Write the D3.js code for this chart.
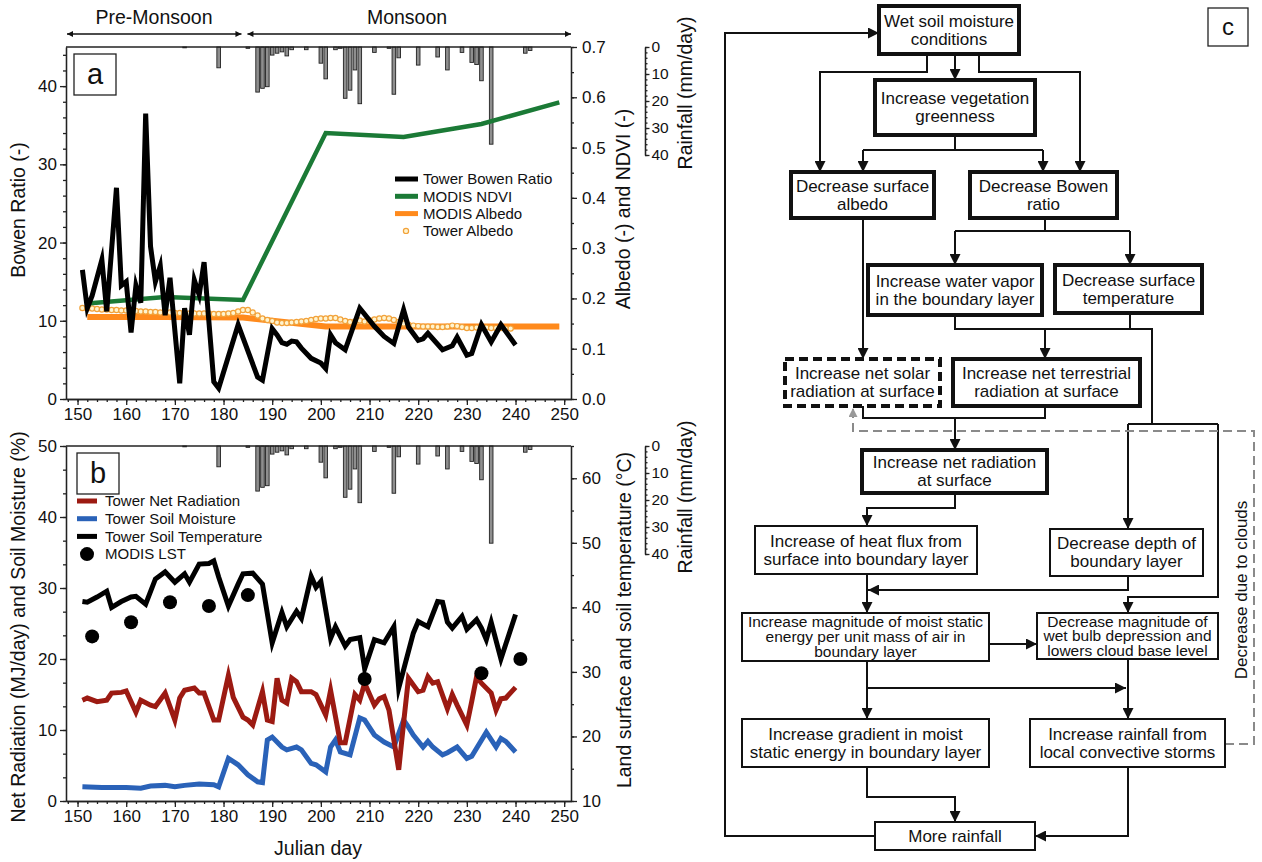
<!DOCTYPE html>
<html>
<head>
<meta charset="utf-8">
<script src="https://cdn.jsdelivr.net/npm/d3@7"></script>
<style>
  body { margin: 0; background: #fff; }
  svg text { font-family: "Liberation Sans", Arial, sans-serif; fill: #111; }
</style>
</head>
<body>
<svg id="fig" width="1262" height="862"></svg>
<script>
// ---------------- data ----------------
const xTicks = [150, 160, 170, 180, 190, 200, 210, 220, 230, 240, 250];

// panel a
const bowenDays = [151,152,153,155,156,158,159,160,161,162,163,164,165,166,167,168,169,171,172,173,174,175,176,178,179,183,187,188,190,191,192,193,194,195,196,198,200,201,202,203,205,208,211,213,215,217,218,220,221,222,225,227,228,230,231,233,235,237,240];
const bowenVals = [16.5,11.6,13.2,17.8,11.2,27.0,14.5,15.0,8.5,14.5,12.3,36.5,19.5,15.0,17.0,10.7,15.5,2.0,11.6,8.2,15.2,13.3,17.5,2.2,1.4,9.5,2.8,2.4,9.0,8.2,7.2,7.0,7.4,7.3,6.5,5.2,4.6,3.9,8.2,7.2,6.3,11.6,9.3,8.0,7.1,11.4,9.2,7.5,7.7,8.4,6.3,6.8,7.9,5.6,5.8,9.5,7.3,9.5,6.9];

const modisDays = [152, 168, 184, 201, 217, 233, 249];
const ndviVals = [0.190, 0.203, 0.197, 0.529, 0.521, 0.547, 0.590];
const modisAlbedoVals = [0.163, 0.163, 0.162, 0.144, 0.144, 0.144, 0.144];

const towerAlbedoStart = 151;
const towerAlbedoVals = [
  0.181,0.180,0.180,0.179,0.178,0.178,0.177,0.177,0.176,0.176,
  0.175,0.175,0.174,0.174,0.173,0.173,0.172,0.172,0.172,0.171,
  0.171,0.171,0.170,0.170,0.170,0.170,0.170,0.169,0.169,0.169,
  0.170,0.171,0.174,0.177,0.177,0.172,0.166,0.160,0.157,0.155,
  0.152,0.151,0.151,0.152,0.153,0.154,0.155,0.157,0.159,0.160,
  0.160,0.161,0.161,0.158,0.155,0.153,0.154,0.156,0.154,0.156,
  0.158,0.160,0.161,0.160,0.157,0.153,0.150,0.148,0.146,0.145,
  0.144,0.144,0.144,0.143,0.143,0.144,0.146,0.145,0.143,0.141,
  0.141,0.142,0.142,0.142,0.141,0.141,0.141,0.140,0.140
];

// rainfall (both panels)
const rainDays = [172,179,185,187,188,189,190,191,192,193,194,197,200,201,203,204,205,206,207,208,211,214,215,216,220,224,226,229,231,232,233,235,242,243];
const rainVals = [0.3,7.7,0.5,16.7,15.3,14.7,3.0,2.3,1.8,3.3,1.0,1.0,6.0,11.8,1.0,0.5,19.0,16.0,8.5,21.0,2.0,0.5,17.5,4.0,6.7,3.7,8.5,2.0,5.7,6.5,12.5,36.0,2.3,1.3];

// panel b
const netRadDays = [151,152,154,156,157,159,160,162,163,165,166,168,169,170,171,172,174,175,176,178,179,181,182,184,185,186,188,189,190,191,192,193,194,195,196,198,199,201,202,204,205,207,208,209,211,212,213,214,216,217,218,220,221,222,223,224,226,227,228,230,231,232,233,235,236,237,238,240];
const netRadVals = [14.2,14.5,14.0,14.2,15.2,15.3,15.5,12.5,14.2,13.5,13.3,15.2,13.3,11.4,14.5,15.6,15.9,15.2,15.2,11.4,11.4,17.7,14.6,11.8,11.4,10.7,15.4,11.4,11.2,17.3,14.2,13.8,17.3,16.8,15.4,15.4,15.0,12.1,15.6,8.2,8.2,15.0,14.2,16.6,13.5,14.4,14.7,12.8,4.4,11.0,17.3,15.4,15.6,17.5,16.6,16.8,13.0,15.0,13.5,10.7,14.0,17.5,16.6,15.2,12.8,14.4,14.5,16.0];

const soilMoistDays = [151,155,160,163,165,168,170,172,175,178,179,181,183,185,187,188,189,190,192,193,195,196,198,199,201,202,203,204,206,208,209,211,213,215,217,218,219,221,222,223,225,226,228,230,231,234,236,237,238,240];
const soilMoistVals = [2.0,1.9,1.9,1.8,2.1,2.2,2.0,2.2,2.4,2.3,2.0,6.0,5.1,3.7,2.7,2.6,8.6,9.0,7.6,7.2,7.6,7.2,5.3,5.1,4.1,7.6,8.6,6.9,6.5,11.7,11.4,9.3,8.3,7.6,11.4,10.4,9.3,7.6,8.4,7.6,6.5,6.8,7.6,6.0,6.3,9.7,7.6,8.8,8.4,6.9];

const soilTempDays = [151,152,154,156,157,159,161,162,164,166,168,170,172,173,175,177,178,179,181,183,184,186,188,190,192,193,195,196,198,199,200,202,203,205,206,208,209,211,213,215,216,219,220,222,224,225,226,227,229,230,232,233,234,235,237,240];
const soilTempVals = [40.9,40.8,41.6,42.5,40.0,40.9,41.6,41.7,40.5,44.4,45.5,43.9,45.2,43.9,46.7,46.8,47.2,44.7,40.2,43.6,45.2,45.3,43.6,34.5,39.2,37.0,39.4,38.3,44.8,43.1,44.0,35.2,37.0,34.0,35.0,35.3,30.5,35.0,34.5,37.0,27.5,36.0,37.8,37.0,40.9,40.8,37.7,36.8,38.6,36.6,38.1,36.8,35.0,37.7,32.0,38.9];

const lstDays = [153, 161, 169, 177, 185, 209, 233, 241];
const lstVals = [35.5, 37.7, 40.8, 40.2, 41.9, 28.9, 29.8, 32.0];

// panel c texts
const flowTexts = [
  ["Wet soil moisture", "conditions"],
  ["Increase vegetation", "greenness"],
  ["Decrease surface", "albedo"],
  ["Decrease Bowen", "ratio"],
  ["Increase water vapor", "in the boundary layer"],
  ["Decrease surface", "temperature"],
  ["Increase net solar", "radiation at surface"],
  ["Increase net terrestrial", "radiation at surface"],
  ["Increase net radiation", "at surface"],
  ["Increase of heat flux from", "surface into boundary layer"],
  ["Decrease depth of", "boundary layer"],
  ["Increase magnitude of moist static", "energy per unit mass of air in", "boundary layer"],
  ["Decrease magnitude of", "wet bulb depression and", "lowers cloud base level"],
  ["Increase gradient in moist", "static energy in boundary layer"],
  ["Increase rainfall from", "local convective storms"],
  ["More rainfall"]
];

// ---------------- drawing ----------------
const svg = d3.select("#fig");
const defs = svg.append("defs");
function addMarker(id, color, len, wid) {
  defs.append("marker").attr("id", id)
    .attr("viewBox", "0 0 10 10").attr("refX", 10).attr("refY", 5)
    .attr("markerWidth", len).attr("markerHeight", wid)
    .attr("markerUnits", "userSpaceOnUse").attr("orient", "auto-start-reverse")
    .append("path").attr("d", "M0,0L10,5L0,10z").attr("fill", color);
}
addMarker("ah", "#111", 12, 11);
addMarker("ahGray", "#999", 11, 9);
addMarker("ahSmall", "#111", 9, 6);

const zip = (a, b) => a.map((d, i) => [d, b[i]]);
const x = d3.scaleLinear().domain([147.63, 251.4]).range([66, 571]);
const X0 = 66, X1 = 571, RAINX = 645;

function styleAxis(g, fs) {
  g.attr("font-family", null);
  g.selectAll(".domain, .tick line").attr("stroke", "#222").attr("stroke-width", 1.3);
  g.selectAll(".tick text").attr("font-size", fs || 17).attr("fill", "#111");
}
function addAxis(parent, gen, tx, ty, fs) {
  const a = parent.append("g").attr("transform", `translate(${tx},${ty})`).call(gen);
  styleAxis(a, fs);
  return a;
}
function vLabel(txt, cx, cy, fs) {
  svg.append("text").attr("transform", `translate(${cx},${cy}) rotate(-90)`)
    .attr("text-anchor", "middle").attr("dy", "0.35em")
    .attr("font-size", fs || 19.5).text(txt);
}

function panel(o) {
  const g = svg.append("g");
  // rainfall bars hanging from the top frame
  g.selectAll("rect.rain").data(zip(rainDays, rainVals)).join("rect")
    .attr("class", "rain")
    .attr("x", d => x(d[0]) - 1.8).attr("y", o.top).attr("width", 3.6)
    .attr("height", d => o.yRain(d[1]) - o.top)
    .attr("fill", "#8e8e8e").attr("stroke", "#222").attr("stroke-width", 0.9);

  addAxis(g, d3.axisBottom(x).tickValues(d3.range(148, 252, 2)).tickSize(3).tickSizeOuter(0).tickFormat(""), 0, o.bottom);
  addAxis(g, d3.axisBottom(x).tickValues(xTicks).tickSize(6).tickSizeOuter(0).tickPadding(3).tickFormat(d3.format("d")), 0, o.bottom);
  addAxis(g, d3.axisLeft(o.yL).tickValues(o.lMinor).tickSize(3).tickSizeOuter(0).tickFormat(""), X0, 0);
  addAxis(g, d3.axisLeft(o.yL).tickValues(o.lMajor).tickSize(6).tickSizeOuter(0).tickPadding(3).tickFormat(d3.format("d")), X0, 0);
  addAxis(g, d3.axisRight(o.yR).tickValues(o.rMinor).tickSize(3).tickSizeOuter(0).tickFormat(""), X1, 0);
  addAxis(g, d3.axisRight(o.yR).tickValues(o.rMajor).tickSize(6).tickSizeOuter(0).tickPadding(5).tickFormat(o.rFmt), X1, 0);
  g.append("line").attr("x1", X0).attr("x2", X1).attr("y1", o.top).attr("y2", o.top)
    .attr("stroke", "#222").attr("stroke-width", 1.3);

  // small rainfall axis
  addAxis(g, d3.axisRight(o.yRain).tickValues(d3.range(0, 41, 2)).tickSize(2.5).tickSizeOuter(0).tickFormat(""), RAINX, 0);
  addAxis(g, d3.axisRight(o.yRain).tickValues([0, 10, 20, 30, 40]).tickSize(4.5).tickSizeOuter(0).tickPadding(2).tickFormat(d3.format("d")), RAINX, 0, 15.5);

  // panel letter
  g.append("rect").attr("x", o.letterBox[0]).attr("y", o.letterBox[1]).attr("width", 42).attr("height", 41)
    .attr("fill", "#fff").attr("stroke", "#222").attr("stroke-width", 1.3);
  g.append("text").attr("x", o.letterBox[0] + 21).attr("y", o.letterBox[1] + 30)
    .attr("text-anchor", "middle").attr("font-size", 29).text(o.letter);
  return g;
}

function drawLine(g, days, vals, yS, color, w) {
  g.append("path").datum(zip(days, vals))
    .attr("d", d3.line().x(d => x(d[0])).y(d => yS(d[1])))
    .attr("fill", "none").attr("stroke", color).attr("stroke-width", w)
    .attr("stroke-linejoin", "miter").attr("stroke-miterlimit", 6);
}

// ---- panel a ----
const yBowen = d3.scaleLinear().domain([0, 45]).range([399, 47]);
const yAlb = d3.scaleLinear().domain([0, 0.7]).range([399, 47]);
const yRainA = d3.scaleLinear().domain([0, 40]).range([47, 155]);
const ga = panel({
  top: 47, bottom: 399, yL: yBowen, yR: yAlb, yRain: yRainA,
  lMajor: [0, 10, 20, 30, 40], lMinor: d3.range(0, 46, 2),
  rMajor: [0, 0.1, 0.2, 0.3, 0.4, 0.5, 0.6, 0.7], rMinor: d3.range(0, 0.71, 0.05), rFmt: d3.format(".1f"),
  letter: "a", letterBox: [74, 54]
});
drawLine(ga, modisDays, modisAlbedoVals, yAlb, "#ff8a1c", 6);
ga.selectAll("circle.ta").data(towerAlbedoVals).join("circle").attr("class", "ta")
  .attr("cx", (d, i) => x(towerAlbedoStart + i)).attr("cy", d => yAlb(d)).attr("r", 2.6)
  .attr("fill", "#fff4cf").attr("stroke", "#f2a23a").attr("stroke-width", 1.2);
drawLine(ga, modisDays, ndviVals, yAlb, "#1b7a36", 4.5);
drawLine(ga, bowenDays, bowenVals, yBowen, "#000", 5);

const legA = [["Tower Bowen Ratio", "#000"], ["MODIS NDVI", "#1b7a36"], ["MODIS Albedo", "#ff8a1c"], ["Tower Albedo", null]];
legA.forEach((d, i) => {
  const yy = 179 + i * 17.3;
  if (d[1]) ga.append("line").attr("x1", 395).attr("x2", 418).attr("y1", yy).attr("y2", yy)
    .attr("stroke", d[1]).attr("stroke-width", 5);
  else ga.append("circle").attr("cx", 406).attr("cy", yy).attr("r", 2.6)
    .attr("fill", "#fff4cf").attr("stroke", "#f2a23a").attr("stroke-width", 1.2);
  ga.append("text").attr("x", 423).attr("y", yy).attr("dy", "0.35em").attr("font-size", 15).text(d[0]);
});

vLabel("Bowen Ratio (-)", 18, 210);
vLabel("Albedo (-) and NDVI (-)", 623, 209);
vLabel("Rainfall (mm/day)", 685, 93);

// season arrows
const split = x(184.3);
svg.append("line").attr("x1", X0 + 1).attr("x2", split - 3).attr("y1", 34).attr("y2", 34)
  .attr("stroke", "#111").attr("stroke-width", 1.3)
  .attr("marker-start", "url(#ahSmall)").attr("marker-end", "url(#ahSmall)");
svg.append("line").attr("x1", split + 3).attr("x2", X1).attr("y1", 34).attr("y2", 34)
  .attr("stroke", "#111").attr("stroke-width", 1.3)
  .attr("marker-start", "url(#ahSmall)").attr("marker-end", "url(#ahSmall)");
svg.append("text").attr("x", 154).attr("y", 24).attr("text-anchor", "middle").attr("font-size", 19.5).text("Pre-Monsoon");
svg.append("text").attr("x", 407).attr("y", 24).attr("text-anchor", "middle").attr("font-size", 19.5).text("Monsoon");

// ---- panel b ----
const yNet = d3.scaleLinear().domain([0, 50]).range([801, 446]);
const yTemp = d3.scaleLinear().domain([10, 65]).range([801, 446]);
const yRainB = d3.scaleLinear().domain([0, 40]).range([446, 554]);
const gb = panel({
  top: 446, bottom: 801, yL: yNet, yR: yTemp, yRain: yRainB,
  lMajor: [0, 10, 20, 30, 40, 50], lMinor: d3.range(0, 50.1, 10 / 3),
  rMajor: [10, 20, 30, 40, 50, 60], rMinor: d3.range(10, 66, 5), rFmt: d3.format("d"),
  letter: "b", letterBox: [77, 453]
});
drawLine(gb, soilMoistDays, soilMoistVals, yNet, "#2a62b8", 5);
drawLine(gb, netRadDays, netRadVals, yNet, "#9c1a12", 5);
drawLine(gb, soilTempDays, soilTempVals, yTemp, "#000", 5);
gb.selectAll("circle.lst").data(zip(lstDays, lstVals)).join("circle").attr("class", "lst")
  .attr("cx", d => x(d[0])).attr("cy", d => yTemp(d[1])).attr("r", 7).attr("fill", "#000");

const legB = [["Tower Net Radiation", "#9c1a12"], ["Tower Soil Moisture", "#2a62b8"], ["Tower Soil Temperature", "#000"], ["MODIS LST", null]];
legB.forEach((d, i) => {
  const yy = 501 + i * 17.7;
  if (d[1]) gb.append("line").attr("x1", 77).attr("x2", 97).attr("y1", yy).attr("y2", yy)
    .attr("stroke", d[1]).attr("stroke-width", 5);
  else gb.append("circle").attr("cx", 87).attr("cy", yy).attr("r", 7).attr("fill", "#000");
  gb.append("text").attr("x", 105).attr("y", yy).attr("dy", "0.35em").attr("font-size", 15).text(d[0]);
});

vLabel("Net Radiation (MJ/day) and Soil Moisture (%)", 18, 627);
vLabel("Land surface and soil temperature (\u00B0C)", 624, 620);
vLabel("Rainfall (mm/day)", 685, 497);
svg.append("text").attr("x", 318).attr("y", 855).attr("text-anchor", "middle").attr("font-size", 19.5).text("Julian day");

// ---- panel c: flow chart ----
const boxLayout = [
  {x: 879, y: 6, w: 140, h: 48, bw: 4},
  {x: 875, y: 80, w: 160, h: 55, bw: 4},
  {x: 791, y: 172, w: 143, h: 46, bw: 4},
  {x: 970, y: 172, w: 147, h: 46, bw: 4},
  {x: 868, y: 265, w: 174, h: 50, bw: 4},
  {x: 1055, y: 265, w: 147, h: 48, bw: 4},
  {x: 785, y: 359, w: 155, h: 47, bw: 4, dash: "9,5"},
  {x: 953, y: 359, w: 187, h: 47, bw: 4},
  {x: 862, y: 450, w: 185, h: 43, bw: 4},
  {x: 755, y: 526, w: 222, h: 48, bw: 2},
  {x: 1050, y: 529, w: 153, h: 47, bw: 2},
  {x: 742, y: 613, w: 247, h: 48, bw: 2, fs: 15.5, lh: 15},
  {x: 1037, y: 613, w: 181, h: 46, bw: 2, fs: 15.5, lh: 14.5},
  {x: 742, y: 719, w: 247, h: 48, bw: 2},
  {x: 1030, y: 719, w: 195, h: 48, bw: 2},
  {x: 875, y: 822, w: 160, h: 28, bw: 2}
];

const gc = svg.append("g");
// connectors: [points, arrow at end?]
const links = [
  [[[875, 836], [725, 836], [725, 33], [879, 33]], true],
  [[[927, 54], [927, 72], [820, 72], [820, 172]], true],
  [[[955, 54], [955, 80]], true],
  [[[979, 54], [979, 72], [1080, 72], [1080, 172]], true],
  [[[955, 135], [955, 150]], false],
  [[[863, 150], [1043, 150]], false],
  [[[863, 150], [863, 172]], true],
  [[[1043, 150], [1043, 172]], true],
  [[[863, 218], [863, 359]], true],
  [[[1045, 218], [1045, 231]], false],
  [[[955, 231], [1130, 231]], false],
  [[[955, 231], [955, 265]], true],
  [[[1130, 231], [1130, 265]], true],
  [[[955, 315], [955, 329], [1152, 329], [1152, 424]], false],
  [[[1130, 313], [1130, 329]], false],
  [[[1045, 329], [1045, 359]], true],
  [[[1128, 424], [1218, 424]], false],
  [[[1128, 424], [1128, 529]], true],
  [[[1218, 424], [1218, 597], [1128, 597], [1128, 613]], true],
  [[[863, 406], [863, 418], [1045, 418], [1045, 406]], false],
  [[[955, 418], [955, 450]], true],
  [[[955, 493], [955, 508], [867, 508], [867, 526]], true],
  [[[867, 574], [867, 613]], true],
  [[[1128, 576], [1128, 590], [868, 590]], true],
  [[[989, 644], [1037, 644]], true],
  [[[867, 661], [867, 719]], true],
  [[[867, 688], [1126, 688]], true],
  [[[1128, 659], [1128, 719]], true],
  [[[867, 767], [867, 797], [955, 797], [955, 822]], true],
  [[[1128, 767], [1128, 836], [1035, 836]], true]
];
links.forEach(([pts, arrow]) => {
  gc.append("path").attr("d", d3.line()(pts)).attr("fill", "none")
    .attr("stroke", "#111").attr("stroke-width", 2)
    .attr("marker-end", arrow ? "url(#ah)" : null);
});
// cloud feedback (grey dashed)
gc.append("path").attr("d", d3.line()([[1225, 744], [1254, 744], [1254, 431], [853, 431], [853, 408]]))
  .attr("fill", "none").attr("stroke", "#8a8a8a").attr("stroke-width", 2).attr("stroke-dasharray", "9,5")
  .attr("marker-end", "url(#ahGray)");
gc.append("text").attr("transform", "translate(1241,590) rotate(-90)").attr("text-anchor", "middle")
  .attr("dy", "0.35em").attr("font-size", 17).text("Decrease due to clouds");

boxLayout.forEach((b, i) => {
  gc.append("rect").attr("x", b.x).attr("y", b.y).attr("width", b.w).attr("height", b.h)
    .attr("fill", "#fff").attr("stroke", "#111").attr("stroke-width", b.bw)
    .attr("stroke-dasharray", b.dash || null);
  const lines = flowTexts[i];
  const fs = b.fs || 17, lh = b.lh || 18;
  const cy = b.y + b.h / 2;
  lines.forEach((t, j) => {
    gc.append("text").attr("x", b.x + b.w / 2)
      .attr("y", cy + (j - (lines.length - 1) / 2) * lh)
      .attr("dy", "0.35em").attr("text-anchor", "middle").attr("font-size", fs).text(t);
  });
});
gc.append("rect").attr("x", 1208).attr("y", 8).attr("width", 40).attr("height", 38)
  .attr("fill", "#fff").attr("stroke", "#222").attr("stroke-width", 1.3);
gc.append("text").attr("x", 1228).attr("y", 35).attr("text-anchor", "middle").attr("font-size", 24).text("c");
</script>
</body>
</html>
